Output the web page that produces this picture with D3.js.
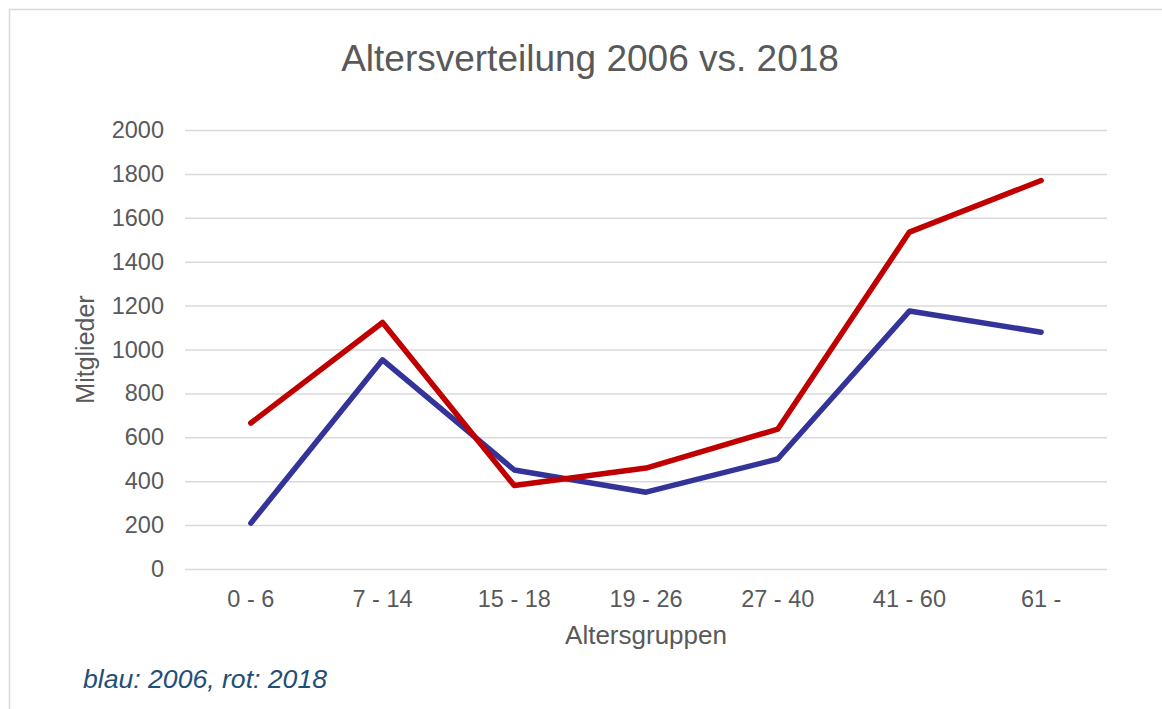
<!DOCTYPE html>
<html>
<head>
<meta charset="utf-8">
<script src="https://cdn.jsdelivr.net/npm/d3@7"></script>
<style>
  body { margin: 0; background: #fff; }
  text { font-family: "Liberation Sans", Arial, sans-serif; }
</style>
</head>
<body>
<div id="chart"></div>
<script>
// data
var groups = ["0 - 6", "7 - 14", "15 - 18", "19 - 26", "27 - 40", "41 - 60", "61 -"];
var members2006 = [209, 953, 451, 350, 501, 1175, 1079];
var members2018 = [665, 1123, 380, 460, 637, 1535, 1770];
var yTicks = [0, 200, 400, 600, 800, 1000, 1200, 1400, 1600, 1800, 2000];

var W = 1162, H = 709;
var margin = {top: 130, right: 55, bottom: 140, left: 185},
    width = W - margin.left - margin.right,
    height = H - margin.top - margin.bottom;

var root = d3.select("#chart")
  .append("svg")
    .attr("width", W)
    .attr("height", H);

// chart frame (runs off the right and bottom edges)
root.append("rect")
    .attr("x", 9.5).attr("y", 9.5)
    .attr("width", W + 20).attr("height", H + 20)
    .attr("fill", "none")
    .attr("stroke", "#d9d9d9")
    .attr("stroke-width", 1.5);

var svg = root.append("g")
    .attr("transform", "translate(" + margin.left + "," + margin.top + ")");

var x = d3.scaleBand()
    .domain(groups)
    .range([0, width])
    .padding(0);

var y = d3.scaleLinear()
    .domain([0, 2000])
    .range([height, 0]);

// y axis + gridlines
var yAxis = svg.append("g")
    .call(d3.axisLeft(y).tickValues(yTicks).tickFormat(d3.format("d"))
      .tickSize(-width).tickPadding(21));
yAxis.select(".domain").remove();
yAxis.selectAll("line").attr("stroke", "#d9d9d9").attr("stroke-width", 1.5);
yAxis.selectAll("text")
    .attr("fill", "#595959")
    .style("font-size", "23.5px");

// x axis
var xAxis = svg.append("g")
    .attr("transform", "translate(0," + height + ")")
    .call(d3.axisBottom(x).tickSize(0).tickPadding(21));
xAxis.select(".domain").remove();
xAxis.selectAll("text")
    .attr("fill", "#595959")
    .style("font-size", "23.5px");

var line = d3.line()
    .x(function(d, i) { return x(groups[i]) + x.bandwidth() / 2; })
    .y(function(d) { return y(d); });

svg.append("path")
    .datum(members2006)
    .attr("d", line)
    .attr("fill", "none")
    .attr("stroke", "#333399")
    .attr("stroke-width", 5.5)
    .attr("stroke-linejoin", "round")
    .attr("stroke-linecap", "round");

svg.append("path")
    .datum(members2018)
    .attr("d", line)
    .attr("fill", "none")
    .attr("stroke", "#c00000")
    .attr("stroke-width", 5.5)
    .attr("stroke-linejoin", "round")
    .attr("stroke-linecap", "round");

// title
root.append("text")
    .attr("x", 590)
    .attr("y", 71)
    .attr("text-anchor", "middle")
    .attr("fill", "#595959")
    .style("font-size", "37px")
    .text("Altersverteilung 2006 vs. 2018");

// x-axis label
root.append("text")
    .attr("x", margin.left + width / 2)
    .attr("y", 644)
    .attr("text-anchor", "middle")
    .attr("fill", "#595959")
    .style("font-size", "26px")
    .text("Altersgruppen");

// y-axis label
root.append("text")
    .attr("text-anchor", "middle")
    .attr("transform", "translate(94," + (margin.top + height / 2) + ") rotate(-90)")
    .attr("fill", "#595959")
    .style("font-size", "25px")
    .text("Mitglieder");

// note under the chart
root.append("text")
    .attr("x", 83)
    .attr("y", 688)
    .attr("fill", "#1f4e79")
    .style("font-size", "26.6px")
    .style("font-style", "italic")
    .text("blau: 2006, rot: 2018");
</script>
</body>
</html>
